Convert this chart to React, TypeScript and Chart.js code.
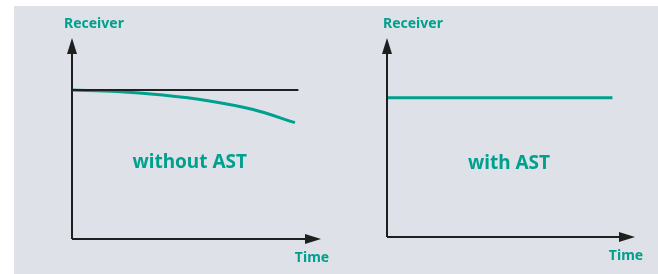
import React, { useEffect, useRef } from "react";
import { Chart, registerables } from "chart.js";

Chart.register(...registerables);

// ---- data ----
const withoutAstX = [0, 2, 4, 6, 8, 9.85];
const withoutAstY = [7.41, 7.34, 7.16, 6.88, 6.44, 5.79];
const referenceX = [0, 10];
const referenceY = [7.41, 7.41];
const withAstX = [0, 10];
const withAstY = [7.0, 7.0];
const panelTitles = ["without AST", "with AST"];
const yAxisLabel = "Receiver";
const xAxisLabel = "Time";

const TEAL = "#00a08d";
const AXIS = "#1f1f1f";
const BG = "#dee2e8";
const FONT = "'Noto Sans', sans-serif";

type PanelCfg = {
  datasets: any[];
  title: string;
  titleAt: [number, number];
  padding: { left: number; right: number; top: number; bottom: number };
  receiverDx: number;
};

const arrowPlugin = {
  id: "arrowAxes",
  afterDatasetsDraw(chart: any, _args: any, opts: any) {
    const { ctx, chartArea } = chart;
    const { left, right, top, bottom } = chartArea;
    const headLen = 16;
    const headHalf = 5;
    ctx.save();
    ctx.strokeStyle = AXIS;
    ctx.fillStyle = AXIS;
    ctx.lineWidth = 2;
    ctx.beginPath();
    ctx.moveTo(left, bottom);
    ctx.lineTo(left, top + headLen - 1);
    ctx.moveTo(left, bottom);
    ctx.lineTo(right - headLen + 1, bottom);
    ctx.stroke();
    // y arrow head
    ctx.beginPath();
    ctx.moveTo(left, top);
    ctx.lineTo(left - headHalf, top + headLen);
    ctx.lineTo(left + headHalf, top + headLen);
    ctx.closePath();
    ctx.fill();
    // x arrow head
    ctx.beginPath();
    ctx.moveTo(right, bottom);
    ctx.lineTo(right - headLen, bottom - headHalf);
    ctx.lineTo(right - headLen, bottom + headHalf);
    ctx.closePath();
    ctx.fill();

    ctx.fillStyle = TEAL;
    ctx.textBaseline = "middle";
    ctx.font = `bold 14px ${FONT}`;
    ctx.textAlign = "left";
    ctx.fillText(yAxisLabel, left + opts.receiverDx, top - 14);
    ctx.textAlign = "center";
    ctx.fillText(xAxisLabel, right - 9, bottom + 19);

    const xs = chart.scales.x;
    const ys = chart.scales.y;
    ctx.font = `bold 19px ${FONT}`;
    ctx.fillText(opts.title, xs.getPixelForValue(opts.titleAt[0]), ys.getPixelForValue(opts.titleAt[1]));
    ctx.restore();
  },
};

function Panel({ cfg, width, height }: { cfg: PanelCfg; width: number; height: number }) {
  const ref = useRef<HTMLCanvasElement | null>(null);
  useEffect(() => {
    if (!ref.current) return;
    const chart = new Chart(ref.current, {
      type: "line",
      data: { datasets: cfg.datasets },
      options: {
        responsive: false,
        animation: false,
        devicePixelRatio: 1,
        layout: { padding: cfg.padding },
        scales: {
          x: { type: "linear", min: 0, max: 11, display: false },
          y: { type: "linear", min: 0, max: 10, display: false },
        },
        plugins: {
          legend: { display: false },
          tooltip: { enabled: false },
          arrowAxes: { title: cfg.title, titleAt: cfg.titleAt, receiverDx: cfg.receiverDx },
        } as any,
        elements: { point: { radius: 0 } },
      },
      plugins: [arrowPlugin],
    });
    return () => chart.destroy();
  }, []);
  return <canvas ref={ref} width={width} height={height} style={{ display: "block" }} />;
}

const toPts = (xs: number[], ys: number[]) => xs.map((x, i) => ({ x, y: ys[i] }));

export default function App() {
  useEffect(() => {
    document.body.style.margin = "0";
  }, []);
  const left: PanelCfg = {
    datasets: [
      { data: toPts(referenceX, referenceY), borderColor: AXIS, borderWidth: 2, tension: 0 },
      {
        data: toPts(withoutAstX, withoutAstY),
        borderColor: TEAL,
        borderWidth: 3,
        cubicInterpolationMode: "monotone",
        borderCapStyle: "butt",
      },
    ],
    title: panelTitles[0],
    titleAt: [5.2, 3.78],
    padding: { left: 58, right: 15, top: 32, bottom: 35 },
    receiverDx: -8,
  };
  const right: PanelCfg = {
    datasets: [{ data: toPts(withAstX, withAstY), borderColor: TEAL, borderWidth: 3, tension: 0 }],
    title: panelTitles[1],
    titleAt: [5.41, 3.67],
    padding: { left: 51, right: 23, top: 32, bottom: 37 },
    receiverDx: -4,
  };
  return (
    <div style={{ width: 658, height: 274, background: "#fff", position: "relative", overflow: "hidden" }}>
      <div style={{ position: "absolute", left: 14, top: 6, width: 644, height: 268, background: BG, display: "flex" }}>
        <Panel cfg={left} width={322} height={268} />
        <Panel cfg={right} width={322} height={268} />
      </div>
    </div>
  );
}
